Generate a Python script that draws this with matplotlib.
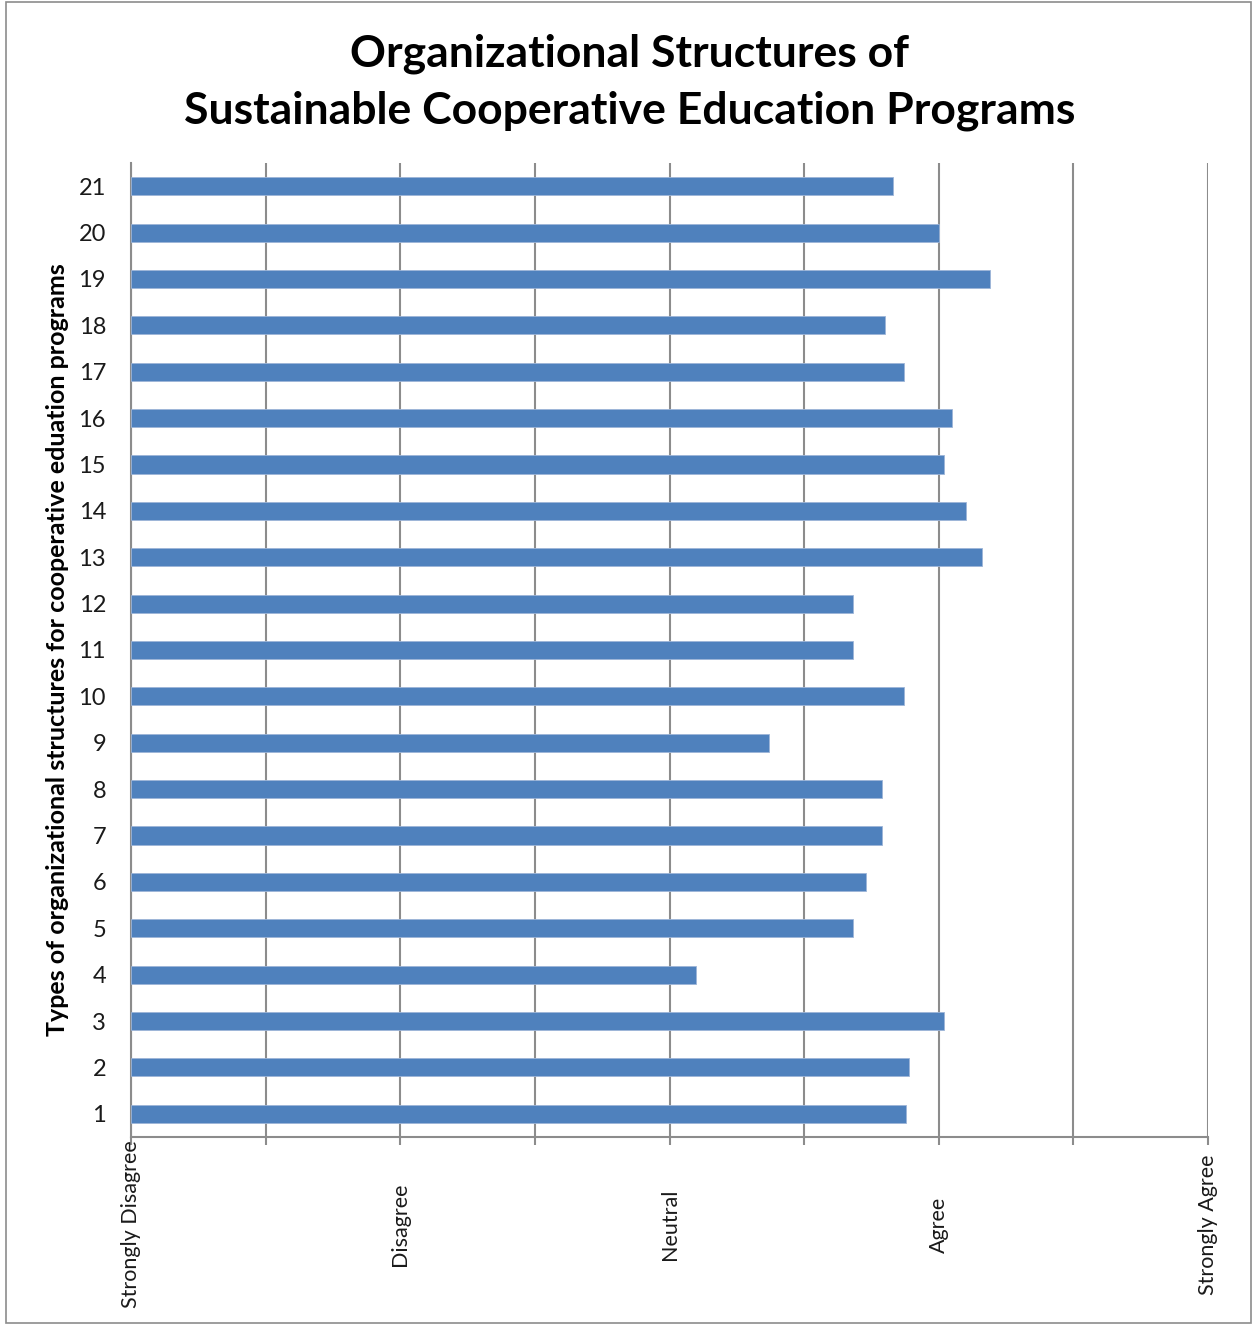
import matplotlib.pyplot as plt
from matplotlib.patches import Rectangle

plt.rcParams['font.family'] = ['Lato', 'DejaVu Sans']

# data (1 = Strongly Disagree ... 5 = Strongly Agree)
structures = list(range(1, 22))
ratings = [3.88, 3.89, 4.02, 3.10, 3.68, 3.73, 3.79, 3.79, 3.37, 3.87, 3.68,
           3.68, 4.16, 4.10, 4.02, 4.05, 3.87, 3.80, 4.19, 4.00, 3.83]
scale_labels = ["Strongly Disagree", "Disagree", "Neutral", "Agree", "Strongly Agree"]
scale_values = [1, 2, 3, 4, 5]

bar_color = "#4F81BD"
grid_color = "#8C8C8C"

fig = plt.figure(figsize=(12.54, 13.26), dpi=100)
ax = fig.add_axes([131 / 1254, 1 - 1137 / 1326, (1208 - 131) / 1254, (1137 - 163) / 1326])

ax.barh(structures, [r - 1 for r in ratings], left=1, height=0.39,
        color=bar_color, edgecolor="#9DB5D8", linewidth=0.6, zorder=3)

ax.set_xlim(1, 5)
ax.set_ylim(0.5, 21.5)

# vertical gridlines every half step, labels only on the scale points
ax.xaxis.remove_overlapping_locs = False
ax.set_xticks([1 + 0.5 * i for i in range(9)])
ax.set_xticklabels([])
ax.set_xticks(scale_values, minor=True)
ax.set_xticklabels(scale_labels, minor=True, rotation=90, va="center",
                   fontsize=15.5, color="#1a1a1a")
ax.tick_params(axis="x", which="major", length=6, width=1.5, color=grid_color,
               direction="out")
ax.tick_params(axis="x", which="minor", length=0, pad=63)
ax.grid(axis="x", which="major", color=grid_color, linewidth=1.5, zorder=0)

ax.set_yticks(structures)
ax.set_yticklabels([str(s) for s in structures], fontsize=17, color="#1a1a1a")
ax.tick_params(axis="y", length=0, pad=18)

for side in ["top", "right"]:
    ax.spines[side].set_visible(False)
for side in ["left", "bottom"]:
    ax.spines[side].set_color(grid_color)
    ax.spines[side].set_linewidth(1.5)

ax.set_ylabel("Types of organizational structures for cooperative eduation programs",
              fontsize=18, fontweight="bold")
ax.yaxis.set_label_coords(-0.058, 0.5)

fig.text(630 / 1254, 1 - 82 / 1326,
         "Organizational Structures of\nSustainable Cooperative Education Programs",
         ha="center", va="center", fontsize=32, fontweight="bold", linespacing=1.5)

# outer chart frame
fig.patches.append(Rectangle((6 / 1254, 0.002), 1245 / 1254, 1 - 2 / 1326 - 0.002,
                             transform=fig.transFigure, fill=False,
                             edgecolor="#8C8C8C", linewidth=1.2))

fig.savefig("out.png", dpi=100)
